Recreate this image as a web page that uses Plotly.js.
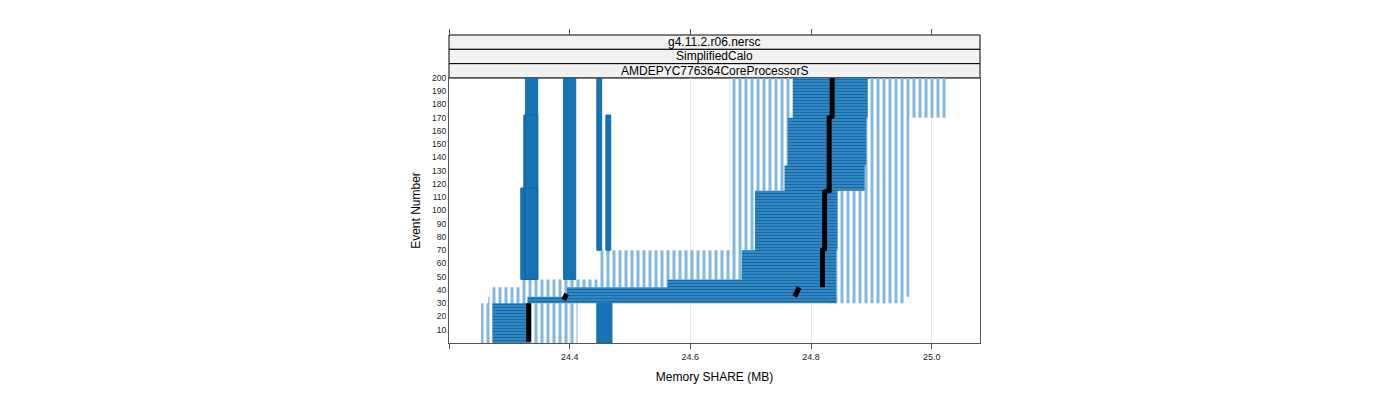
<!DOCTYPE html>
<html><head><meta charset="utf-8">
<script src="https://cdn.plot.ly/plotly-3.0.1.min.js"></script>
<style>html,body{margin:0;padding:0;background:#fff}</style>
</head><body><div id="chart" style="width:1400px;height:400px"></div>
<script>
// Sparse (light) bands of measurements: memory range per event range
const lightMemLo = [24.253, 24.265, 24.267, 24.320, 24.448, 24.665, 24.665, 24.665, 24.665, 24.828, 24.842, 24.842, 24.842, 24.844, 24.889, 24.892, 24.894];
const lightMemHi = [24.413, 24.330, 24.395, 24.562, 24.685, 24.707, 24.756, 24.761, 24.770, 24.957, 24.963, 24.963, 24.963, 24.963, 24.963, 24.963, 25.026];
const lightEvtLo = [0, 30, 35, 42, 48, 70, 115, 134, 170, 30, 35, 42, 48, 70, 115, 134, 170];
const lightEvtHi = [30, 35, 42, 48, 70, 115, 134, 170, 200, 35, 42, 48, 70, 115, 134, 170, 200];

// Dense (dark) bands
const denseMemLo = [24.272, 24.330, 24.395, 24.562, 24.685, 24.707, 24.756, 24.761, 24.770];
const denseMemHi = [24.334, 24.842, 24.842, 24.842, 24.842, 24.844, 24.889, 24.892, 24.894];
const denseEvtLo = [0, 30, 35, 42, 48, 70, 115, 134, 170];
const denseEvtHi = [30, 35, 42, 48, 70, 115, 134, 170, 200];

// Narrow vertical columns of measurements
const colMemLo = [24.327, 24.324, 24.319, 24.390, 24.445, 24.460, 24.445];
const colMemHi = [24.347, 24.347, 24.347, 24.410, 24.453, 24.468, 24.470];
const colEvtLo = [48, 48, 48, 48, 70, 70, 0];
const colEvtHi = [200, 172, 117, 200, 200, 172, 30];

// Median per event (segments separated by null)
const medianEvent = [1, 30, null, 32.5, 37, null, 35, 42, null, 42, 70, 71, 114, 115, 170, 171, 200];
const medianMem   = [24.332, 24.332, null, 24.390, 24.395, null, 24.773, 24.780, null, 24.819, 24.819, 24.8225, 24.8225, 24.830, 24.830, 24.835, 24.835];

const yTicks = [10,20,30,40,50,60,70,80,90,100,110,120,130,140,150,160,170,180,190,200];
const xTicks = [24.2, 24.4, 24.6, 24.8, 25.0];
const xTickText = ['', '24.4', '24.6', '24.8', '25.0'];
const stripLabels = ['g4.11.2.r06.nersc', 'SimplifiedCalo', 'AMDEPYC776364CoreProcessorS'];

function rects(lo, hi, elo, ehi) {
  const x = [], y = [];
  for (let i = 0; i < lo.length; i++) {
    x.push(lo[i], hi[i], hi[i], lo[i], lo[i], null);
    y.push(elo[i], elo[i], ehi[i], ehi[i], elo[i], null);
  }
  return {x, y};
}

const L = rects(lightMemLo, lightMemHi, lightEvtLo, lightEvtHi);
const D = rects(denseMemLo, denseMemHi, denseEvtLo, denseEvtHi);
const C = rects(colMemLo, colMemHi, colEvtLo, colEvtHi);

const traces = [
  {x: L.x, y: L.y, type: 'scatter', mode: 'lines', fill: 'toself', line: {width: 0, color: 'rgba(0,0,0,0)'},
   fillcolor: 'rgba(255,255,255,0)',
   fillpattern: {shape: '|', size: 6, solidity: 0.5, fgcolor: '#82b6de', bgcolor: 'rgba(255,255,255,0)'},
   hoverinfo: 'skip', showlegend: false},
  {x: D.x, y: D.y, type: 'scatter', mode: 'lines', fill: 'toself', line: {width: 0, color: 'rgba(0,0,0,0)'},
   fillcolor: '#2c82bf',
   fillpattern: {shape: '-', size: 3, solidity: 0.45, fgcolor: '#126cab', bgcolor: '#3a8bc4'},
   hoverinfo: 'skip', showlegend: false},
  {x: C.x, y: C.y, type: 'scatter', mode: 'lines', fill: 'toself', line: {width: 1, color: '#0b69a9'},
   fillcolor: '#1673b4', hoverinfo: 'skip', showlegend: false},
  {x: medianMem, y: medianEvent, type: 'scatter', mode: 'lines', connectgaps: false,
   line: {color: '#000000', width: 5}, hoverinfo: 'skip', showlegend: false}
];

const plotTop = 265/308;
const sh = (1 - plotTop) / 3;
const shapes = [], annotations = [];
for (let i = 0; i < 3; i++) {
  const y1 = 1 - i*sh, y0 = y1 - sh;
  shapes.push({type: 'rect', xref: 'paper', yref: 'paper', x0: 0, x1: 1, y0: y0, y1: y1,
    fillcolor: '#f2f2f2', line: {color: '#000', width: 1}, layer: 'below'});
  annotations.push({xref: 'paper', yref: 'paper', x: 0.5, y: (y0+y1)/2, text: stripLabels[i],
    showarrow: false, font: {size: 12, color: '#000'}, xanchor: 'center', yanchor: 'middle'});
}

const layout = {
  width: 1400, height: 400,
  margin: {l: 449, r: 420, t: 35, b: 57},
  paper_bgcolor: '#fff', plot_bgcolor: '#fff',
  font: {family: 'Liberation Sans, Arial, sans-serif', color: '#000'},
  showlegend: false,
  xaxis: {range: [24.2, 25.08], tickvals: xTicks, ticktext: xTickText, ticks: 'outside', ticklen: 5,
    tickcolor: '#555', tickfont: {size: 9, color: '#222'}, showgrid: true, gridcolor: '#e6e6e6', gridwidth: 1,
    zeroline: false, showline: true, linecolor: '#555', linewidth: 1, mirror: true,
    title: {text: 'Memory SHARE (MB)', font: {size: 12}, standoff: 11}},
  xaxis2: {range: [24.2, 25.08], overlaying: 'x', side: 'top', anchor: 'free', position: 1,
    tickvals: xTicks, ticks: 'outside', ticklen: 6, tickcolor: '#555', showticklabels: false,
    showgrid: false, zeroline: false, showline: false},
  yaxis: {domain: [0, plotTop], range: [0, 200], tickvals: yTicks, ticks: '', tickfont: {size: 8.5, color: '#222'},
    showgrid: false, zeroline: false, showline: true, linecolor: '#555', linewidth: 1, mirror: true,
    title: {text: 'Event Number', font: {size: 12}, standoff: 8}},
  shapes: shapes, annotations: annotations
};

traces.push({x: [24.2], y: [0], xaxis: 'x2', type: 'scatter', mode: 'markers', marker: {opacity: 0}, hoverinfo: 'skip', showlegend: false});

Plotly.newPlot('chart', traces, layout, {displayModeBar: false, staticPlot: true});
</script>
</body></html>
